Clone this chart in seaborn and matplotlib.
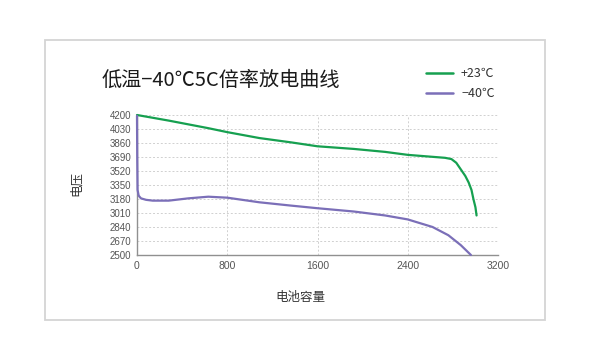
import matplotlib
matplotlib.use("Agg")
import matplotlib.pyplot as plt
import seaborn as sns
import pandas as pd
from matplotlib.patches import Rectangle

sns.set_theme(style="white")
plt.rcParams['font.family'] = ['Noto Sans CJK SC', 'DejaVu Sans']

title = "低温−40℃5C倍率放电曲线"
series_names = ["+23℃", "−40℃"]
x_ticks = [0, 800, 1600, 2400, 3200]
y_ticks = [2500, 2670, 2840, 3010, 3180, 3350, 3520, 3690, 3860, 4030, 4200]

cap_23 = [0, 281, 632, 800, 1085, 1364, 1600, 1922, 2200, 2400, 2620, 2731, 2787, 2830, 2870, 2910, 2940, 2965, 2982, 3000, 3010]
volt_23 = [4200, 4132, 4040, 3992, 3920, 3868, 3820, 3788, 3752, 3716, 3692, 3680, 3665, 3620, 3540, 3460, 3380, 3290, 3180, 3080, 2980]

cap_m40 = [0, 2, 5, 15, 35, 80, 140, 281, 456, 632, 800, 1085, 1364, 1600, 1922, 2200, 2400, 2620, 2760, 2870, 2960]
volt_m40 = [4190, 3700, 3290, 3220, 3188, 3170, 3160, 3160, 3188, 3208, 3196, 3140, 3100, 3068, 3028, 2980, 2932, 2840, 2740, 2620, 2500]

colors = ["#16a050", "#7b6fb8"]

df = pd.concat([
    pd.DataFrame({"容量": cap_23, "电压": volt_23, "series": series_names[0]}),
    pd.DataFrame({"容量": cap_m40, "电压": volt_m40, "series": series_names[1]}),
])

fig = plt.figure(figsize=(5.9, 3.6), dpi=100)
ax = fig.add_axes([137/590, 1-255/360, (498-137)/590, (255-115)/360])

sns.lineplot(data=df, x="容量", y="电压", hue="series", palette=colors,
             sort=False, estimator=None, linewidth=1.6, ax=ax, legend=False)
for ln in ax.get_lines():
    ln.set_zorder(4)
    ln.set_clip_on(False)

ax.set_xlim(0, 3200)
ax.set_ylim(2500, 4200)
ax.set_xticks(x_ticks)
ax.set_yticks(y_ticks)
ax.set_xticklabels([str(v) for v in x_ticks], fontsize=7.5, color="#555555", family=['Liberation Sans', 'DejaVu Sans'])
ax.set_yticklabels([str(v) for v in y_ticks], fontsize=7, color="#555555", family=['Liberation Sans', 'DejaVu Sans'])
ax.tick_params(axis='both', length=0, pad=4)
ax.grid(True, linestyle=(0, (2, 2)), color="#d0d0d0", linewidth=0.7)
for s in ["top", "right"]:
    ax.spines[s].set_visible(False)
for s in ["left", "bottom"]:
    ax.spines[s].set_color("#909090")
    ax.spines[s].set_linewidth(1.0)
ax.set_xlabel("")
ax.set_ylabel("")

fig.text(300/590, 1-297/360, "电池容量", ha="center", va="center", fontsize=9, color="#333333")
fig.text(76/590, 1-183/360, "电压", ha="center", va="center", fontsize=9, color="#333333", rotation=90)
fig.text(102/590, 1-80/360, title, ha="left", va="center", fontsize=14.5, color="#1a1a1a", fontweight="medium")

# legend
for i, (name, c) in enumerate(zip(series_names, colors)):
    yy = 1 - (73 + 20*i)/360
    fig.add_artist(plt.Line2D([426/590, 453/590], [yy, yy], color=c, linewidth=1.8, transform=fig.transFigure))
    fig.text(461/590, yy, name, ha="left", va="center", fontsize=9, color="#333333")

fig.add_artist(Rectangle((45/590, 1-320/360), 500/590, 280/360, transform=fig.transFigure,
                         fill=False, edgecolor="#d4d4d4", linewidth=1.3))

fig.savefig("out.png", dpi=100)
